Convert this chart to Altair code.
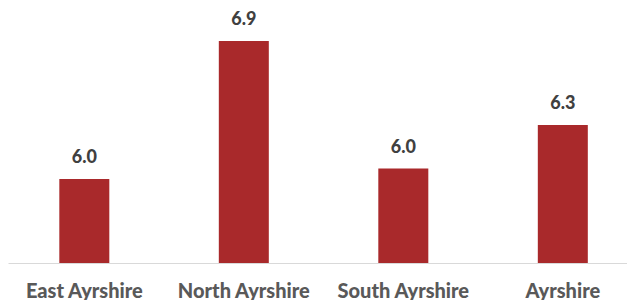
import altair as alt
import pandas as pd

areas = ["East Ayrshire", "North Ayrshire", "South Ayrshire", "Ayrshire"]
values = [5.96, 6.88, 6.03, 6.32]
labels = ["6.0", "6.9", "6.0", "6.3"]

df = pd.DataFrame({"area": areas, "value": values, "label": labels})

x = alt.X(
    "area:N",
    sort=areas,
    title=None,
    scale=alt.Scale(paddingInner=0.6865, paddingOuter=0.2837, align=0.567),
    axis=alt.Axis(
        labelAngle=0,
        labelFont="Lato",
        labelFontWeight=900,
        labelFontSize=20,
        labelColor="#595959",
        labelBaseline="alphabetic",
        labelPadding=34,
        ticks=False,
        tickSize=0,
        domainColor="#D9D9D9",
        domainWidth=1,
        grid=False,
    ),
)
y = alt.Y(
    "value:Q",
    scale=alt.Scale(domain=[5.4, 7.1], nice=False, zero=False),
    axis=None,
)

bars = alt.Chart(df).mark_bar(color="#A9292B", clip=True).encode(x=x, y=y)
text = alt.Chart(df).mark_text(
    font="Lato", fontWeight=900, fontSize=18, color="#404040",
    baseline="alphabetic", dy=-16,
).encode(x=x, y=y, text="label:N")

chart = (bars + text).properties(width=619, height=255, padding=0).configure_view(stroke=None)
chart.save("out.html", embed_options={"renderer": "svg", "actions": False})
